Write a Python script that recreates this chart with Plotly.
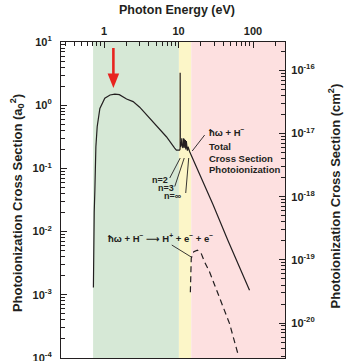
import math
import plotly.graph_objects as go

# ---- data -------------------------------------------------------------
# Total H- photodetachment / photoionization cross section (a0^2) vs photon energy (eV)
energy_total = [0.717, 0.725, 0.735, 0.75, 0.774, 0.806, 0.876, 1.02, 1.2, 1.39,
                1.6, 2.0, 2.45, 3.0, 4.1, 5.58, 6.86, 8.86, 9.34, 10.3,
                10.45, 10.49, 10.5, 10.51, 10.55, 10.9, 11.05, 11.2, 11.5, 11.7,
                11.85, 12.0, 12.15, 12.35, 12.5, 12.7, 12.85, 13.0, 13.15, 13.4,
                13.7, 14.1, 28.9, 45.9, 89.8]
sigma_total = [1.3e-3, 8e-3, 0.02, 0.045, 0.22, 0.456, 0.89, 1.29, 1.45, 1.5,
               1.47, 1.25, 1.14, 0.93, 0.62, 0.40, 0.317, 0.21, 0.195, 0.195,
               0.2, 0.22, 3.25, 0.25, 0.22, 0.24, 0.30, 0.22, 0.21, 0.30,
               0.22, 0.29, 0.21, 0.28, 0.20, 0.27, 0.20, 0.26, 0.19, 0.22,
               0.19, 0.183, 0.027, 7.3e-3, 1.18e-3]

# Double photoionization H- -> H+ + e- + e- (a0^2)
energy_double = [14.4, 14.5, 14.8, 16.0, 17.9, 20.0, 22.4, 26.1, 35.6, 48.4, 62.5]
sigma_double = [1.1e-3, 2.4e-3, 3.8e-3, 4.8e-3, 5.1e-3, 4.6e-3, 3.3e-3, 2.3e-3,
                9.2e-4, 3.5e-4, 1.18e-4]

# Energy bands (eV): detachment, resonance window, ionization
band_edges = [0.71, 10.1, 14.8, 300.0]
band_colors = ["#d6e8d6", "#fcf6c8", "#fde0e0"]

# Axis ticks
x_ticks = [1, 10, 100]
x_ticklabels = ["1", "10", "100"]
y_ticks = [1e-4, 1e-3, 1e-2, 1e-1, 1e0, 1e1]
y_ticklabels = ["10<sup>-4</sup>", "10<sup>-3</sup>", "10<sup>-2</sup>",
                "10<sup>-1</sup>", "10<sup>0</sup>", "10<sup>1</sup>"]
y2_ticks = [1e-20, 1e-19, 1e-18, 1e-17, 1e-16]
y2_ticklabels = ["10<sup>-20</sup>", "10<sup>-19</sup>", "10<sup>-18</sup>",
                 "10<sup>-17</sup>", "10<sup>-16</sup>"]
A0_SQ_CM2 = 2.8e-17  # 1 a0^2 in cm^2


def log_minor(k0, k1):
    """Minor tick positions 2..9 x 10^k for decades k0..k1."""
    return [m * 10.0 ** k for k in range(k0, k1 + 1) for m in range(2, 10)]


# ---- layout geometry ----------------------------------------------------
W, H = 346, 361
L, R, T, B = 61, 60.5, 42, 3
PW, PH = W - L - R, H - T - B
INK = "#231f20"
FONT = "Liberation Sans, Arial, DejaVu Sans, sans-serif"

X_RANGE = [-0.58, 2.43]
Y_RANGE = [-4.0, 1.0]
lg = math.log10(A0_SQ_CM2)
Y2_RANGE = [Y_RANGE[0] + lg, Y_RANGE[1] + lg]


def px(x, y):
    """Pixel position -> paper coordinates."""
    return (x - L) / PW, (H - B - y) / PH


fig = go.Figure()

fig.add_trace(go.Scatter(x=energy_total, y=sigma_total, mode="lines",
                         line=dict(color=INK, width=1.2), showlegend=False,
                         hoverinfo="skip"))
fig.add_trace(go.Scatter(x=energy_double, y=sigma_double, mode="lines",
                         line=dict(color=INK, width=1.2, dash="6px,4px"),
                         showlegend=False, hoverinfo="skip"))

for i, c in enumerate(band_colors):
    fig.add_shape(type="rect", xref="x", yref="paper",
                  x0=band_edges[i], x1=band_edges[i + 1], y0=0, y1=1,
                  fillcolor=c, line_width=0, layer="below")

axis_common = dict(showline=True, linecolor=INK, linewidth=1.2, ticks="inside",
                   tickcolor=INK, tickwidth=1.2, showgrid=False, zeroline=False,
                   ticklabeloverflow="allow", automargin=False,
                   tickfont=dict(family=FONT, size=11, color=INK, weight="bold"))


def minor(vals):
    return dict(tickvals=vals, ticks="inside", ticklen=4,
                tickcolor=INK, tickwidth=1.1, showgrid=False)


fig.update_layout(
    width=W, height=H,
    margin=dict(l=L, r=R, t=T, b=B, pad=0, autoexpand=False),
    paper_bgcolor="white", plot_bgcolor="white",
    xaxis=dict(type="log", range=X_RANGE, side="top", mirror=True,
               tickvals=x_ticks, ticktext=x_ticklabels,
               ticklen=6, ticklabelstandoff=2, minor=minor(log_minor(-1, 2)),
               **axis_common),
    yaxis=dict(type="log", range=Y_RANGE,
               tickvals=y_ticks, ticktext=y_ticklabels, ticklen=6,
               ticklabelstandoff=6, minor=minor(log_minor(-4, 0)),
               **axis_common),
    yaxis2=dict(type="log", overlaying="y", side="right", anchor="x",
                range=Y2_RANGE, tickvals=y2_ticks,
                ticktext=y2_ticklabels, ticklen=6, ticklabelstandoff=3,
                minor=minor(log_minor(-21, -16)), **axis_common),
)

# invisible trace that activates the right-hand axis
fig.add_trace(go.Scatter(x=[1], y=[A0_SQ_CM2], yaxis="y2", mode="markers",
                         marker=dict(opacity=0), showlegend=False,
                         hoverinfo="skip"))


def text(s, x, y, size=9.5, xanchor="left", angle=0):
    xp, yp = px(x, y)
    fig.add_annotation(text=s, x=xp, y=yp, xref="paper", yref="paper",
                       showarrow=False, xanchor=xanchor, yanchor="middle",
                       textangle=angle,
                       font=dict(family=FONT, size=size, color=INK,
                                 weight="bold"))


def leader(x0, y0, x1, y1, color=INK, width=0.9):
    a, b = px(x0, y0)
    c, d = px(x1, y1)
    fig.add_shape(type="line", xref="paper", yref="paper",
                  x0=a, y0=b, x1=c, y1=d, line=dict(color=color, width=width))


# titles
text("Photon Energy (eV)", 177, 10, size=12.5, xanchor="center")
text("Photoionization Cross Section (a<sub>0</sub><sup>2</sup>)", 17, 203,
     size=13, xanchor="center", angle=-90)
text("Photoionization Cross Section (cm<sup>2</sup>)", 335, 196,
     size=13, xanchor="center", angle=-90)

# curve labels
text("ħω + H<sup>−</sup>", 207, 132)
text("Total", 207, 146)
text("Cross Section", 207, 158)
text("Photoionization", 207, 169)
leader(205, 135, 192.5, 151)

text("n=2", 170, 180, size=9, xanchor="right")
text("n=3", 176, 188, size=9, xanchor="right")
text("n=∞", 184, 196, size=9, xanchor="right")
leader(170, 178, 180.5, 158)
leader(175, 186.5, 184.5, 158)
leader(186, 193, 189, 158)

text("ħω + H<sup>−</sup> ⟶ H<sup>+</sup> + e<sup>−</sup> + e<sup>−</sup>", 106, 238)
leader(172, 245, 191.5, 257)

# red arrow marking the detachment maximum
shaft = [px(112.2, 48), px(114.8, 48), px(114.8, 75), px(112.2, 75)]
head = [px(107.7, 73.5), px(119.3, 73.5), px(113.5, 88)]
for poly in (shaft, head):
    path = "M " + " L ".join(f"{p[0]:.4f},{p[1]:.4f}" for p in poly) + " Z"
    fig.add_shape(type="path", xref="paper", yref="paper", path=path,
                  fillcolor="#e8231f", line_width=0)

fig.write_html("out.html")
